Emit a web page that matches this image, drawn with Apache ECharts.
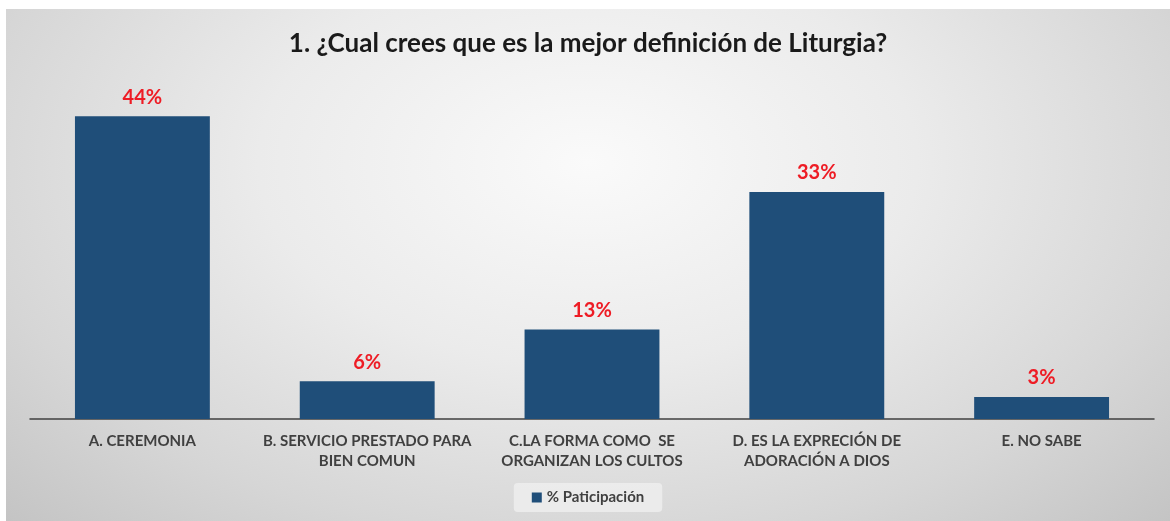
<!DOCTYPE html>
<html>
<head>
<meta charset="utf-8">
<script src="https://cdn.jsdelivr.net/npm/echarts@6/dist/echarts.min.js"></script>
<style>
    html, body { margin: 0; padding: 0; background: #fff; }
    #chart {
        position: absolute; left: 6px; top: 9px; width: 1164px; height: 512px;
        background: radial-gradient(ellipse at 50% 30%, #FAFAFA 0%, #EBEBEB 40%, #D6D6D6 75%, #C4C4C4 100%);
    }
</style>
</head>
<body>
<div id="chart"></div>
<script>
    // categorias del eje X
    var categories = [
        'A. CEREMONIA',
        'B. SERVICIO PRESTADO PARA\nBIEN COMUN',
        'C.LA FORMA COMO  SE\nORGANIZAN LOS CULTOS',
        'D. ES LA EXPRECIÓN DE\nADORACIÓN A DIOS',
        'E. NO SABE'
    ];
    var participacion = [44, 5.5, 13, 33, 3.2];
    var seriesName = '% Paticipación';
    var titleText = '1. ¿Cual crees que es la mejor definición de Liturgia?';

    var chart = echarts.init(document.getElementById('chart'));
    var option = {
        backgroundColor: 'transparent',
        title: {
            text: titleText,
            left: 'center',
            top: 17,
            textStyle: {
                fontFamily: 'Lato',
                fontWeight: 'bold',
                fontSize: 26,
                color: '#1A1A1A'
            }
        },
        legend: {
            bottom: 9,
            left: 'center',
            itemWidth: 10,
            itemHeight: 10,
            itemGap: 6,
            icon: 'rect',
            backgroundColor: 'rgba(240,240,240,0.75)',
            borderRadius: 4,
            padding: [7, 18],
            textStyle: {
                fontFamily: 'Lato',
                fontWeight: 'bold',
                fontSize: 15,
                color: '#404040'
            },
            data: [seriesName]
        },
        grid: {
            left: 24,
            right: 16,
            top: 66,
            bottom: 102,
            containLabel: false
        },
        xAxis: {
            type: 'category',
            data: categories,
            axisTick: { show: false },
            axisLine: {
                lineStyle: { color: '#404040', width: 1.5 }
            },
            axisLabel: {
                interval: 0,
                margin: 12,
                lineHeight: 20,
                fontFamily: 'Lato',
                fontWeight: 'bold',
                fontSize: 15,
                color: '#404040'
            }
        },
        yAxis: {
            type: 'value',
            min: 0,
            max: 50,
            show: false,
            splitLine: { show: false }
        },
        series: [{
            name: seriesName,
            type: 'bar',
            data: participacion,
            barWidth: '60%',
            itemStyle: { color: '#1F4E79' },
            label: {
                show: true,
                position: 'top',
                distance: 9,
                fontFamily: 'Lato',
                fontWeight: 'bold',
                fontSize: 20,
                color: '#EE1C25',
                formatter: function (p) {
                    return Math.round(p.value) + '%';
                }
            }
        }]
    };
    chart.setOption(option);
</script>
</body>
</html>
